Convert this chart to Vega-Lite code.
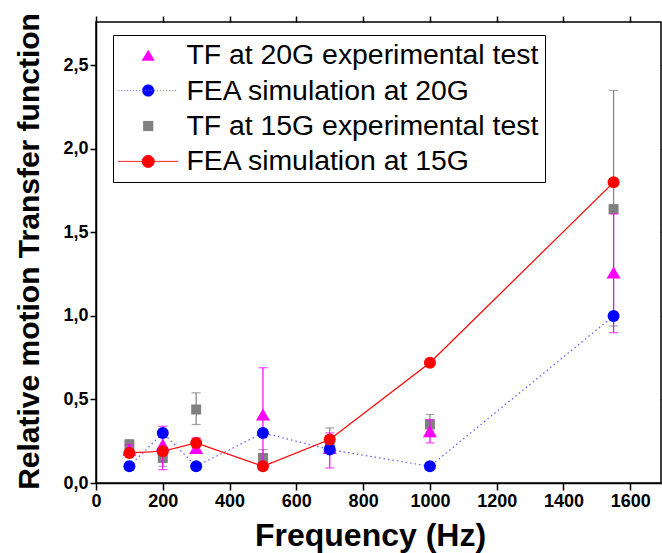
{
  "$schema": "https://vega.github.io/schema/vega-lite/v6.json",
  "width": 565,
  "height": 461,
  "autosize": {"type": "none"},
  "padding": {"left": 96, "top": 22, "right": 1, "bottom": 70},
  "config": {
    "view": {"stroke": "black", "strokeWidth": 1.5},
    "font": "Liberation Sans",
    "axis": {
      "domainColor": "black",
      "domainWidth": 1.5,
      "grid": false,
      "labelFont": "Liberation Sans",
      "labelFontWeight": "bold",
      "labelFontSize": 18,
      "labelColor": "black",
      "titleFont": "Liberation Sans",
      "titleFontWeight": "bold",
      "titleFontSize": 30,
      "titleColor": "black"
    }
  },
  "data": {
    "values": [
      {"s": "TF at 15G experimental test", "f": 100, "v": 0.23, "lo": 0.19, "hi": 0.26},
      {"s": "TF at 15G experimental test", "f": 200, "v": 0.15, "lo": 0.10, "hi": 0.21},
      {"s": "TF at 15G experimental test", "f": 300, "v": 0.44, "lo": 0.35, "hi": 0.54},
      {"s": "TF at 15G experimental test", "f": 500, "v": 0.15, "lo": 0.10, "hi": 0.20},
      {"s": "TF at 15G experimental test", "f": 700, "v": 0.23, "lo": 0.18, "hi": 0.33},
      {"s": "TF at 15G experimental test", "f": 1000, "v": 0.35, "lo": 0.31, "hi": 0.41},
      {"s": "TF at 15G experimental test", "f": 1550, "v": 1.64, "lo": 0.94, "hi": 2.35},
      {"s": "TF at 20G experimental test", "f": 100, "v": 0.20, "lo": 0.17, "hi": 0.23},
      {"s": "TF at 20G experimental test", "f": 200, "v": 0.23, "lo": 0.08, "hi": 0.34},
      {"s": "TF at 20G experimental test", "f": 300, "v": 0.21, "lo": 0.18, "hi": 0.27},
      {"s": "TF at 20G experimental test", "f": 500, "v": 0.41, "lo": 0.12, "hi": 0.69},
      {"s": "TF at 20G experimental test", "f": 700, "v": 0.21, "lo": 0.09, "hi": 0.30},
      {"s": "TF at 20G experimental test", "f": 1000, "v": 0.31, "lo": 0.24, "hi": 0.38},
      {"s": "TF at 20G experimental test", "f": 1550, "v": 1.26, "lo": 0.90, "hi": 1.61},
      {"s": "FEA simulation at 20G", "f": 100, "v": 0.10},
      {"s": "FEA simulation at 20G", "f": 200, "v": 0.30},
      {"s": "FEA simulation at 20G", "f": 300, "v": 0.10},
      {"s": "FEA simulation at 20G", "f": 500, "v": 0.30},
      {"s": "FEA simulation at 20G", "f": 700, "v": 0.20},
      {"s": "FEA simulation at 20G", "f": 1000, "v": 0.10},
      {"s": "FEA simulation at 20G", "f": 1550, "v": 1.00},
      {"s": "FEA simulation at 15G", "f": 100, "v": 0.18},
      {"s": "FEA simulation at 15G", "f": 200, "v": 0.19},
      {"s": "FEA simulation at 15G", "f": 300, "v": 0.24},
      {"s": "FEA simulation at 15G", "f": 500, "v": 0.10},
      {"s": "FEA simulation at 15G", "f": 700, "v": 0.26},
      {"s": "FEA simulation at 15G", "f": 1000, "v": 0.72},
      {"s": "FEA simulation at 15G", "f": 1550, "v": 1.80}
    ]
  },
  "layer": [
    {
      "transform": [{"filter": "datum.s === 'TF at 15G experimental test'"}],
      "mark": {"type": "rule", "color": "#808080", "strokeWidth": 1.2},
      "encoding": {
        "x": {"field": "f", "type": "quantitative", "scale": {"domain": [0, 1692], "nice": false, "zero": false},
          "axis": {"orient": "bottom", "title": "Frequency (Hz)", "values": [0,200,400,600,800,1000,1200,1400,1600],
            "format": "d", "tickColor": "black", "tickWidth": 1.5, "tickSize": 7,
            "labelPadding": 2, "labelFlush": false, "labelOverlap": false,
            "titleFontSize": 32, "titleBaseline": "alphabetic", "titleX": 274, "titleY": 62, "titleAlign": "center"}},
        "y": {"field": "lo", "type": "quantitative", "scale": {"domain": [0, 2.76], "nice": false},
          "axis": {"orient": "left", "title": "Relative motion Transfer function", "values": [0,0.5,1,1.5,2,2.5],
            "labelExpr": "replace(format(datum.value, '.1f'), '.', ',')",
            "tickColor": "black", "tickWidth": 1.5, "tickSize": 6,
            "labelPadding": 2, "labelFlush": false, "labelOverlap": false,
            "titleBaseline": "alphabetic", "titleX": -58, "titleY": 229, "titleAlign": "center", "titleAngle": 270}},
        "y2": {"field": "hi"}
      }
    },
    {
      "transform": [{"filter": "datum.s === 'TF at 15G experimental test'"}],
      "mark": {"type": "tick", "orient": "horizontal", "color": "#808080", "size": 9, "thickness": 1.2},
      "encoding": {
        "x": {"field": "f", "type": "quantitative", "scale": {"domain": [0, 1692], "nice": false, "zero": false},
          "axis": {"orient": "top", "title": null, "labels": false, "domain": false, "tickColor": "black", "tickWidth": 1.5, "tickSize": 6, "values": [0,200,400,600,800,1000,1200,1400,1600]}},
        "y": {"field": "lo", "type": "quantitative", "scale": {"domain": [0, 2.76], "nice": false},
          "axis": {"orient": "right", "title": null, "labels": false, "domain": false, "tickColor": "black", "tickWidth": 1.5, "tickSize": 6, "values": [0,0.5,1,1.5,2,2.5]}}
      }
    },
    {
      "transform": [{"filter": "datum.s === 'TF at 15G experimental test'"}],
      "mark": {"type": "tick", "orient": "horizontal", "color": "#808080", "size": 9, "thickness": 1.2},
      "encoding": {
        "x": {"field": "f", "type": "quantitative", "scale": {"domain": [0, 1692], "nice": false, "zero": false}, "axis": null},
        "y": {"field": "hi", "type": "quantitative", "scale": {"domain": [0, 2.76], "nice": false}, "axis": null}
      }
    },
    {
      "transform": [{"filter": "datum.s === 'TF at 15G experimental test'"}],
      "mark": {"type": "square", "color": "#808080", "size": 100, "opacity": 1},
      "encoding": {
        "x": {"field": "f", "type": "quantitative", "scale": {"domain": [0, 1692], "nice": false, "zero": false}, "axis": null},
        "y": {"field": "v", "type": "quantitative", "scale": {"domain": [0, 2.76], "nice": false}, "axis": null}
      }
    },
    {
      "transform": [{"filter": "datum.s === 'TF at 20G experimental test'"}],
      "mark": {"type": "rule", "color": "#ff00ff", "strokeWidth": 1.2},
      "encoding": {
        "x": {"field": "f", "type": "quantitative", "scale": {"domain": [0, 1692], "nice": false, "zero": false}, "axis": null},
        "y": {"field": "lo", "type": "quantitative", "scale": {"domain": [0, 2.76], "nice": false}, "axis": null},
        "y2": {"field": "hi"}
      }
    },
    {
      "transform": [{"filter": "datum.s === 'TF at 20G experimental test'"}],
      "mark": {"type": "tick", "orient": "horizontal", "color": "#ff00ff", "size": 9, "thickness": 1.2},
      "encoding": {
        "x": {"field": "f", "type": "quantitative", "scale": {"domain": [0, 1692], "nice": false, "zero": false}, "axis": null},
        "y": {"field": "lo", "type": "quantitative", "scale": {"domain": [0, 2.76], "nice": false}, "axis": null}
      }
    },
    {
      "transform": [{"filter": "datum.s === 'TF at 20G experimental test'"}],
      "mark": {"type": "tick", "orient": "horizontal", "color": "#ff00ff", "size": 9, "thickness": 1.2},
      "encoding": {
        "x": {"field": "f", "type": "quantitative", "scale": {"domain": [0, 1692], "nice": false, "zero": false}, "axis": null},
        "y": {"field": "hi", "type": "quantitative", "scale": {"domain": [0, 2.76], "nice": false}, "axis": null}
      }
    },
    {
      "transform": [{"filter": "datum.s === 'TF at 20G experimental test'"}],
      "mark": {"type": "point", "shape": "triangle-up", "filled": true, "color": "#ff00ff", "size": 196, "opacity": 1},
      "encoding": {
        "x": {"field": "f", "type": "quantitative", "scale": {"domain": [0, 1692], "nice": false, "zero": false}, "axis": null},
        "y": {"field": "v", "type": "quantitative", "scale": {"domain": [0, 2.76], "nice": false}, "axis": null}
      }
    },
    {
      "transform": [{"filter": "datum.s === 'FEA simulation at 20G'"}],
      "mark": {"type": "line", "color": "#5a5aff", "strokeWidth": 1.2, "strokeDash": [1.5, 3]},
      "encoding": {
        "x": {"field": "f", "type": "quantitative", "scale": {"domain": [0, 1692], "nice": false, "zero": false}, "axis": null},
        "y": {"field": "v", "type": "quantitative", "scale": {"domain": [0, 2.76], "nice": false}, "axis": null}
      }
    },
    {
      "transform": [{"filter": "datum.s === 'FEA simulation at 20G'"}],
      "mark": {"type": "circle", "color": "#0000ff", "size": 144, "opacity": 1},
      "encoding": {
        "x": {"field": "f", "type": "quantitative", "scale": {"domain": [0, 1692], "nice": false, "zero": false}, "axis": null},
        "y": {"field": "v", "type": "quantitative", "scale": {"domain": [0, 2.76], "nice": false}, "axis": null}
      }
    },
    {
      "transform": [{"filter": "datum.s === 'FEA simulation at 15G'"}],
      "mark": {"type": "line", "color": "#ff0000", "strokeWidth": 1.2},
      "encoding": {
        "x": {"field": "f", "type": "quantitative", "scale": {"domain": [0, 1692], "nice": false, "zero": false}, "axis": null},
        "y": {"field": "v", "type": "quantitative", "scale": {"domain": [0, 2.76], "nice": false}, "axis": null}
      }
    },
    {
      "transform": [{"filter": "datum.s === 'FEA simulation at 15G'"}],
      "mark": {"type": "circle", "color": "#ff0000", "size": 144, "opacity": 1},
      "encoding": {
        "x": {"field": "f", "type": "quantitative", "scale": {"domain": [0, 1692], "nice": false, "zero": false}, "axis": null},
        "y": {"field": "v", "type": "quantitative", "scale": {"domain": [0, 2.76], "nice": false}, "axis": null}
      }
    },
    {
      "transform": [{"filter": "false"}],
      "mark": {"type": "point", "filled": true, "opacity": 1},
      "encoding": {
        "fill": {"field": "s", "type": "nominal",
          "scale": {"domain": ["TF at 20G experimental test", "FEA simulation at 20G", "TF at 15G experimental test", "FEA simulation at 15G"],
                    "range": ["#ff00ff", "#0000ff", "#808080", "#ff0000"]},
          "legend": {
            "orient": "none", "legendX": 17, "legendY": 13, "title": null,
            "strokeColor": "black", "fillColor": "white",
            "padding": 6, "rowPadding": 6.4, "symbolSize": 144, "symbolOffset": 15, "labelOffset": 24,
            "symbolStrokeWidth": 1, "symbolOpacity": 1,
            "labelFont": "Liberation Sans", "labelFontSize": 28.4, "labelColor": "black", "labelLimit": 0}},
        "stroke": {"field": "s", "type": "nominal",
          "scale": {"domain": ["TF at 20G experimental test", "FEA simulation at 20G", "TF at 15G experimental test", "FEA simulation at 15G"],
                    "range": ["transparent", "#6a6aff", "transparent", "#ff0000"]}},
        "shape": {"field": "s", "type": "nominal",
          "scale": {"domain": ["TF at 20G experimental test", "FEA simulation at 20G", "TF at 15G experimental test", "FEA simulation at 15G"],
                    "range": ["M0,-0.92L1.1,0.92L-1.1,0.92Z", "M-5,0H5M1,0A1,1,0,1,1,-1,0A1,1,0,1,1,1,0", "M-0.85,-0.85H0.85V0.85H-0.85Z", "M-5,0H5M1,0A1,1,0,1,1,-1,0A1,1,0,1,1,1,0"]}},
        "strokeDash": {"field": "s", "type": "nominal",
          "scale": {"domain": ["TF at 20G experimental test", "FEA simulation at 20G", "TF at 15G experimental test", "FEA simulation at 15G"],
                    "range": [[1, 0], [1, 2], [1, 0], [1, 0]]}}
      }
    }
  ],
  "resolve": {"axis": {"x": "independent", "y": "independent"}}
}
